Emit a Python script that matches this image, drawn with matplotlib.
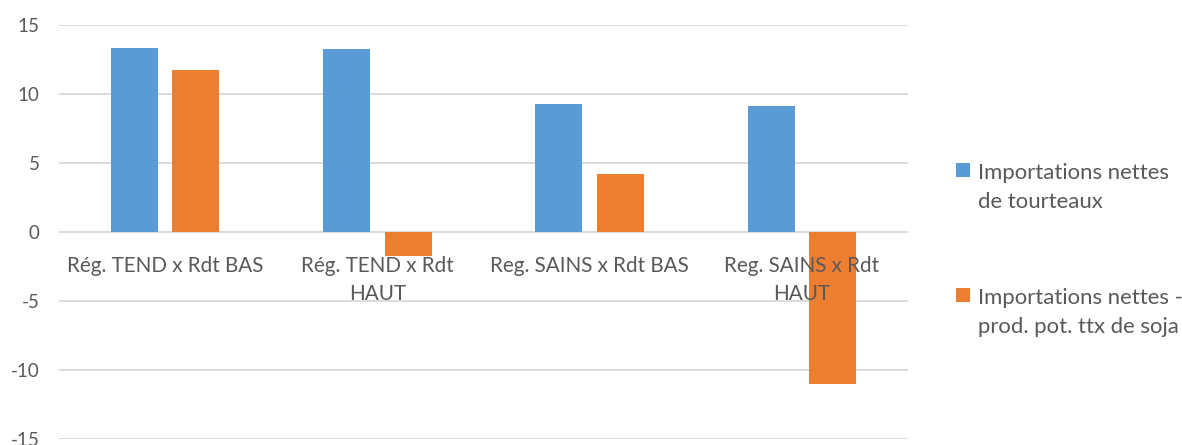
import numpy as np
import matplotlib.pyplot as plt
from matplotlib.patches import Rectangle

# Données du graphique (Mt)
categories = ["Rég. TEND x Rdt BAS", "Rég. TEND x Rdt\nHAUT",
              "Reg. SAINS x Rdt BAS", "Reg. SAINS x Rdt\nHAUT"]
imports_tourteaux = [13.3, 13.25, 9.3, 9.1]
imports_moins_soja = [11.75, -1.75, 4.2, -11.0]
series_labels = ["Importations nettes\nde tourteaux",
                 "Importations nettes -\nprod. pot. ttx de soja"]
series_colors = ['#5B9BD5', '#ED7D31']
yticks = [-15, -10, -5, 0, 5, 10, 15]

plt.rcParams['font.family'] = ['Lato', 'DejaVu Sans']
grey_txt = '#595959'
W, H = 1182, 445

fig = plt.figure(figsize=(W / 100, H / 100), dpi=100)
ax = fig.add_axes([59 / W, 6 / H, 849 / W, 414 / H])

x = np.arange(len(categories))
w = 0.222
ax.bar(x - 0.145, imports_tourteaux, w, color=series_colors[0], zorder=3)
ax.bar(x + 0.145, imports_moins_soja, w, color=series_colors[1], zorder=3)

ax.set_xlim(-0.5, 3.5)
ax.set_ylim(-15, 15)
ax.set_yticks(yticks)
ax.set_yticklabels([str(v) for v in yticks])
ax.set_xticks([])

ax.grid(axis='y', color='#D9D9D9', lw=1.3, zorder=0)
ax.set_axisbelow(True)
for s in ['top', 'right', 'left', 'bottom']:
    ax.spines[s].set_visible(False)
ax.tick_params(axis='y', length=0, pad=14, labelsize=13.5, colors=grey_txt)

# libellés des catégories sous la ligne du zéro, au-dessus des barres
for i, lab in enumerate(categories):
    for j, line in enumerate(lab.split('\n')):
        ax.annotate(line, (x[i], 0), xytext=(0, -40 - 28 * j),
                    textcoords='offset pixels', ha='center', va='baseline',
                    fontsize=14.9, color=grey_txt, zorder=5,
                    annotation_clip=False)

# légende à droite
for k, (lab, col) in enumerate(zip(series_labels, series_colors)):
    base = 179 + 125 * k
    fig.add_artist(Rectangle((956 / W, (H - base + 2) / H), 14 / W, 14 / H,
                             transform=fig.transFigure, color=col, lw=0))
    for j, line in enumerate(lab.split('\n')):
        fig.text(978 / W, (H - base - 29 * j) / H, line, ha='left',
                 va='baseline', fontsize=15.9, color=grey_txt)

fig.savefig('out.png', dpi=100)
